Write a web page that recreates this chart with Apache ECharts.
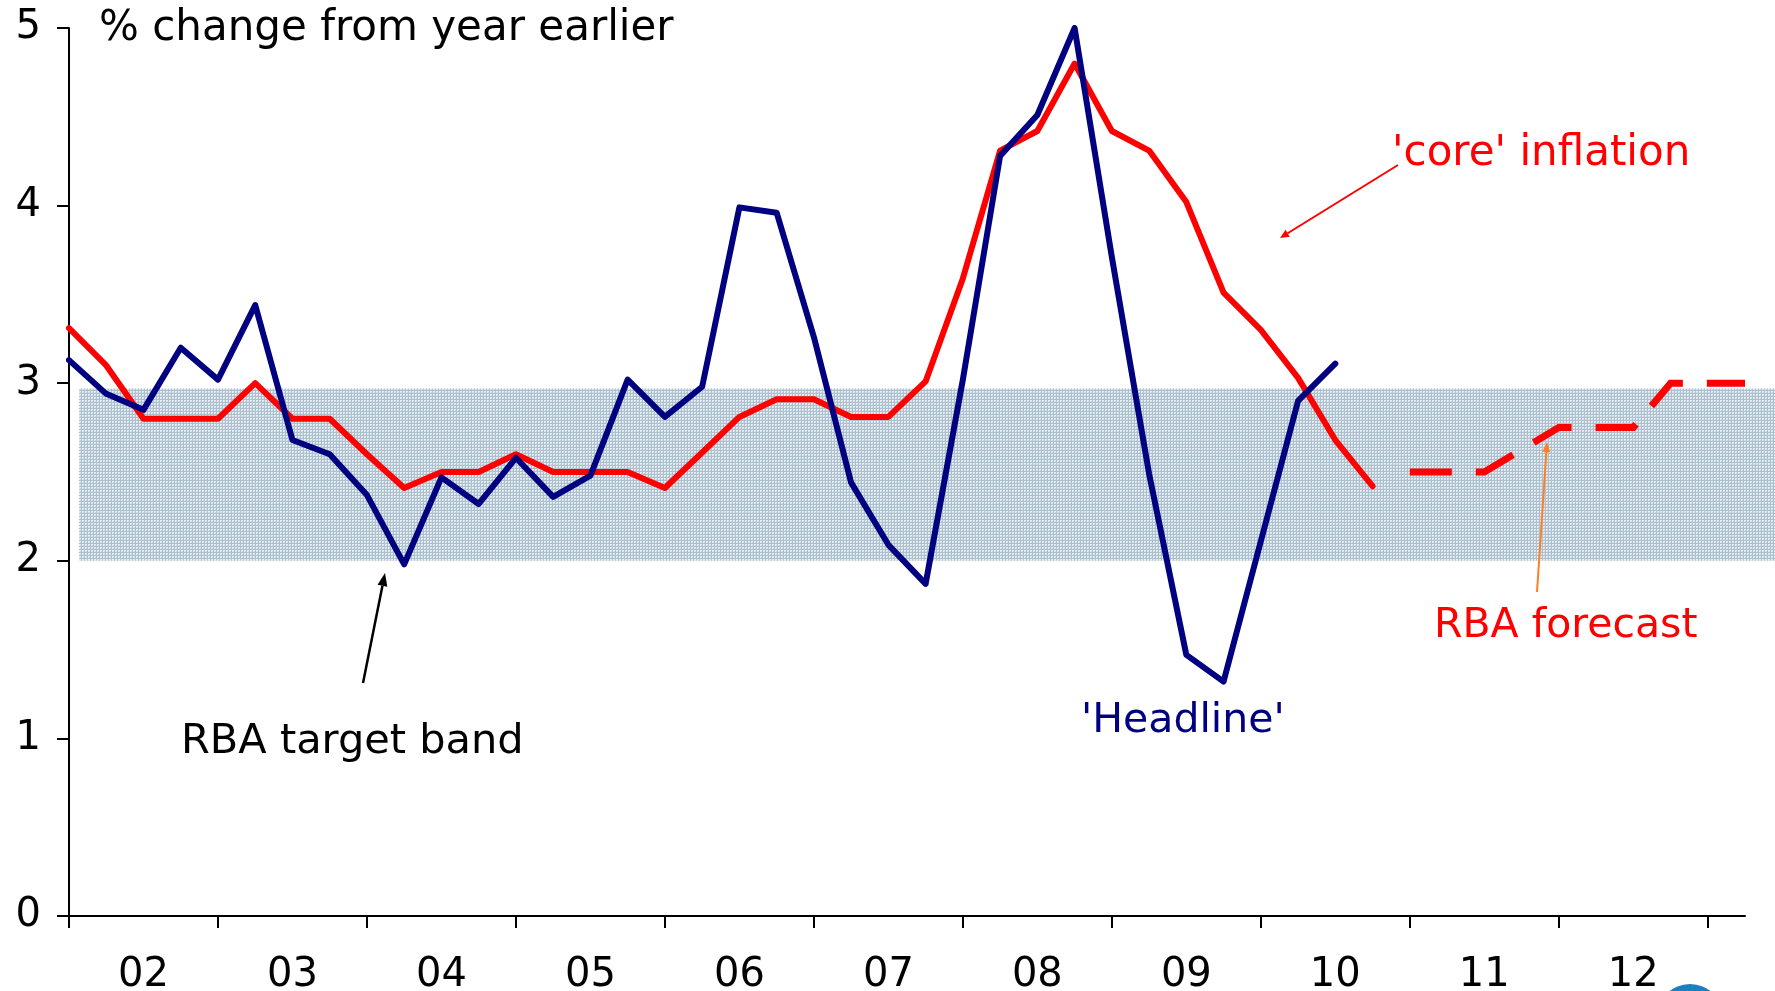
<!DOCTYPE html>
<html>
<head>
<meta charset="utf-8">
<title>Australian inflation and the RBA target band</title>
<script src="https://cdn.jsdelivr.net/npm/echarts@6/dist/echarts.min.js"></script>
<style>
  html, body { margin: 0; padding: 0; background: #ffffff; }
  #chart { width: 1775px; height: 991px; }
</style>
</head>
<body>
<div id="chart"></div>
<script>
// Quarter ends, Dec 2001 to Mar 2013
const quarters = [
  'Dec-01',
  'Mar-02', 'Jun-02', 'Sep-02', 'Dec-02',
  'Mar-03', 'Jun-03', 'Sep-03', 'Dec-03',
  'Mar-04', 'Jun-04', 'Sep-04', 'Dec-04',
  'Mar-05', 'Jun-05', 'Sep-05', 'Dec-05',
  'Mar-06', 'Jun-06', 'Sep-06', 'Dec-06',
  'Mar-07', 'Jun-07', 'Sep-07', 'Dec-07',
  'Mar-08', 'Jun-08', 'Sep-08', 'Dec-08',
  'Mar-09', 'Jun-09', 'Sep-09', 'Dec-09',
  'Mar-10', 'Jun-10', 'Sep-10', 'Dec-10',
  'Mar-11', 'Jun-11', 'Sep-11', 'Dec-11',
  'Mar-12', 'Jun-12', 'Sep-12', 'Dec-12',
  'Mar-13'
];

// Year labels, one per calendar year, centred on the year
const yearLabels = ['02', '03', '04', '05', '06', '07', '08', '09', '10', '11', '12'];

// Headline CPI, % change from year earlier (Dec-01 .. Jun-10)
const headline = [
  3.13, 2.94, 2.85, 3.20, 3.02, 3.44, 2.68, 2.60, 2.37, 1.98,
  2.47, 2.32, 2.58, 2.36, 2.48, 3.02, 2.81, 2.98, 3.99, 3.96,
  3.26, 2.44, 2.09, 1.87, 3.02, 4.28, 4.51, 5.00, 3.71, 2.49,
  1.47, 1.32, 2.11, 2.90, 3.11
];

// 'Core' (underlying) inflation (Dec-01 .. Sep-10)
const core = [
  3.31, 3.10, 2.80, 2.80, 2.80, 3.00, 2.80, 2.80, 2.60, 2.41,
  2.50, 2.50, 2.60, 2.50, 2.50, 2.50, 2.41, 2.61, 2.81, 2.91,
  2.91, 2.81, 2.81, 3.01, 3.59, 4.31, 4.42, 4.80, 4.42, 4.31,
  4.02, 3.51, 3.30, 3.03, 2.68, 2.42
];

// RBA forecast of underlying inflation (Dec-10 .. Mar-13)
const forecastStart = 36;
const forecast = [2.50, 2.50, 2.50, 2.625, 2.75, 2.75, 2.75, 3.00, 3.00, 3.00];

// RBA target band
const bandLow = 2.0;
const bandHigh = 2.97;

const yTicks = [0, 1, 2, 3, 4, 5];

const forecastSeries = quarters.map(function (q, i) {
  const k = i - forecastStart;
  return k >= 0 && k < forecast.length ? forecast[k] : null;
});

// Fine dotted fill for the target band
function makeBandPattern() {
  const c = document.createElement('canvas');
  c.width = 3; c.height = 3;
  const ctx = c.getContext('2d');
  ctx.fillStyle = '#e6ecf1';
  ctx.fillRect(0, 0, 3, 3);
  ctx.fillStyle = '#adc0ce';
  ctx.fillRect(0, 0, 3, 1);
  ctx.fillRect(0, 0, 1, 3);
  ctx.fillStyle = '#cbd7e0';
  ctx.fillRect(2, 2, 1, 1);
  return c;
}

function arrow(x1, y1, x2, y2, color, width, headLen, headHalf) {
  const ang = Math.atan2(y2 - y1, x2 - x1);
  const bx = x2 - headLen * Math.cos(ang);
  const by = y2 - headLen * Math.sin(ang);
  const px = -Math.sin(ang) * headHalf;
  const py = Math.cos(ang) * headHalf;
  return [
    {
      type: 'line',
      shape: { x1: x1, y1: y1, x2: bx, y2: by },
      style: { stroke: color, lineWidth: width },
      z: 20
    },
    {
      type: 'polygon',
      shape: { points: [[x2, y2], [bx + px, by + py], [bx - px, by - py]] },
      style: { fill: color },
      z: 20
    }
  ];
}

const FONT = '"DejaVu Sans", Verdana, sans-serif';

const chart = echarts.init(document.getElementById('chart'), null, { renderer: 'canvas' });

const graphics = [
  {
    type: 'text', left: 99, top: 8, z: 20,
    style: { text: '% change from year earlier', fill: '#000', font: '42px ' + FONT }
  },
  {
    type: 'text', left: 1392, top: 133, z: 20,
    style: { text: "'core' inflation", fill: '#ff0000', font: '42px ' + FONT }
  },
  {
    type: 'text', left: 1434, top: 606, z: 20,
    style: { text: 'RBA forecast', fill: '#ff0000', font: '41px ' + FONT }
  },
  {
    type: 'text', left: 1081, top: 701, z: 20,
    style: { text: "'Headline'", fill: '#000080', font: '41px ' + FONT }
  },
  {
    type: 'text', left: 181, top: 721, z: 20,
    style: { text: 'RBA target band', fill: '#000', font: '41.5px ' + FONT }
  },
  {
    type: 'circle', z: 20,
    shape: { cx: 1690, cy: 1017, r: 33 },
    style: { fill: '#1b7fc0' }
  }
].concat(
  arrow(1398, 165, 1280, 238, '#ff0000', 2, 9, 4),
  arrow(1537, 592, 1547, 442, '#ff7f27', 2, 10, 4),
  arrow(363, 683, 385, 573, '#000000', 2.5, 13, 5)
);

const option = {
  animation: false,
  backgroundColor: '#ffffff',
  grid: [
    { left: 69, right: 30, top: 28, bottom: 75, outerBoundsMode: 'none', containLabel: false },
    { left: 79, right: 0, top: 28, bottom: 75, outerBoundsMode: 'none', containLabel: false }
  ],
  xAxis: [
    {
      type: 'category',
      gridIndex: 0,
      data: quarters,
      boundaryGap: false,
      axisLine: { lineStyle: { color: '#000', width: 2 } },
      axisTick: {
        interval: function (i) { return i % 4 === 0; },
        length: 12,
        lineStyle: { color: '#000', width: 2 }
      },
      axisLabel: {
        interval: function (i) { return i % 4 === 2; },
        formatter: function (v, i) { return yearLabels[(i - 2) / 4] || ''; },
        color: '#000',
        fontFamily: FONT,
        fontSize: 40,
        margin: 40
      },
      splitLine: { show: false }
    },
    {
      type: 'value', gridIndex: 1, min: 0, max: 1, show: false
    }
  ],
  yAxis: [
    {
      type: 'value',
      gridIndex: 0,
      min: yTicks[0],
      max: yTicks[yTicks.length - 1],
      interval: 1,
      axisLine: { show: true, lineStyle: { color: '#000', width: 2 } },
      axisTick: { show: true, length: 12, lineStyle: { color: '#000', width: 2 } },
      axisLabel: {
        color: '#000',
        fontFamily: FONT,
        fontSize: 40,
        margin: 28
      },
      splitLine: { show: false }
    },
    {
      type: 'value', gridIndex: 1, min: 0, max: 5, show: false
    }
  ],
  series: [
    {
      name: 'Target band',
      type: 'line',
      xAxisIndex: 1,
      yAxisIndex: 1,
      data: [[0, bandLow], [1, bandLow]],
      symbol: 'none',
      lineStyle: { opacity: 0 },
      silent: true,
      z: 1,
      markArea: {
        silent: true,
        itemStyle: { color: { image: makeBandPattern(), repeat: 'repeat' } },
        data: [[{ yAxis: bandLow }, { yAxis: bandHigh }]]
      }
    },
    {
      name: "'core' inflation",
      type: 'line',
      data: core,
      symbol: 'none',
      z: 4,
      lineStyle: { color: '#ff0000', width: 6, cap: 'round', join: 'round' }
    },
    {
      name: "'Headline'",
      type: 'line',
      data: headline,
      symbol: 'none',
      z: 5,
      lineStyle: { color: '#000080', width: 6, cap: 'round', join: 'round' }
    },
    {
      name: 'RBA forecast',
      type: 'line',
      data: forecastSeries,
      symbol: 'none',
      connectNulls: false,
      z: 4,
      lineStyle: { color: '#ff0000', width: 7, type: [42, 24], cap: 'butt', join: 'miter' }
    }
  ],
  graphic: graphics
};

chart.setOption(option);
</script>
</body>
</html>
